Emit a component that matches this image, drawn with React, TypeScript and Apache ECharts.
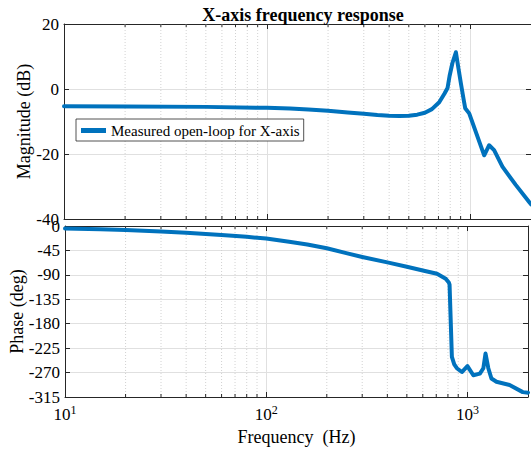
import React, { useEffect, useRef } from 'react';
import * as echarts from 'echarts';

const TITLE = 'X-axis frequency response';
const LEGEND_LABEL = 'Measured open-loop for X-axis';
const X_NAME = 'Frequency  (Hz)';
const MAG_NAME = 'Magnitude (dB)';
const PHASE_NAME = 'Phase (deg)';

const MAG_FREQ = [10, 20, 50, 100, 130, 160, 200, 250, 300, 350, 400, 450, 500, 550, 600, 650, 706, 750, 776, 794, 820, 853, 880, 903, 930, 948, 992, 1176, 1244, 1316, 1446, 1682, 1954, 2000];
const MAG_DB = [-5.3, -5.4, -5.5, -5.8, -6.0, -6.3, -6.7, -7.2, -7.6, -8.0, -8.2, -8.3, -8.2, -7.9, -7.3, -6.2, -4.1, -1.4, 0.3, 4.0, 8.0, 11.3, 6.0, 1.7, -3.0, -5.9, -7.5, -20.4, -17.3, -18.8, -23.9, -29.5, -34.7, -35.5];

const PHASE_FREQ = [10, 15, 20, 30, 40, 60, 80, 100, 130, 160, 200, 250, 300, 400, 500, 600, 706, 780, 808, 815, 837, 860, 886, 938, 1000, 1070, 1153, 1200, 1230, 1270, 1316, 1394, 1620, 1884, 2000];
const PHASE_DEG = [-4.5, -6, -7.5, -10, -12.5, -16.5, -20, -23, -29, -34, -41, -50, -57, -67, -75, -82, -88, -97, -104, -108, -241, -255, -262, -269, -258, -275, -272, -262, -235, -262, -281, -287, -293, -306, -307];

const MINOR_FREQ = [20, 30, 40, 50, 60, 70, 80, 90, 200, 300, 400, 500, 600, 700, 800, 900];
const F_RANGE = [10, 2000];
const MAG_RANGE = [-40, 20];
const MAG_STEP = 20;
const PHASE_RANGE = [-315, 0];
const PHASE_STEP = 45;

const FONT = "'Liberation Serif', 'Times New Roman', serif";
const DARK = '#262626';
const GRID_COLOR = '#e0e0e0';
const LINE_COLOR = '#0072BD';

function xAxis(gridIndex: number, position: string, showLabel: boolean, showSplit: boolean, name?: string) {
  return {
    type: 'log',
    logBase: 10,
    gridIndex,
    position,
    min: F_RANGE[0],
    max: F_RANGE[1],
    name: name || '',
    nameLocation: 'middle',
    nameGap: 31,
    nameMoveOverlap: false,
    nameTextStyle: { fontFamily: FONT, fontSize: 18, color: '#000' },
    axisLine: { show: true, onZero: false, lineStyle: { color: DARK, width: 1 } },
    axisTick: { show: true, inside: true, length: 5, lineStyle: { color: DARK, width: 1 } },
    axisLabel: showLabel
      ? {
          show: true,
          margin: 7,
          color: '#000',
          fontFamily: FONT,
          formatter: (v: number) => {
            const e = Math.log10(v);
            const r = Math.round(e);
            if (Math.abs(e - r) > 1e-6) return '';
            return `{b|10}{s|${r}}`;
          },
          rich: {
            b: { fontFamily: FONT, fontSize: 17, lineHeight: 13, color: '#000', padding: [7, 0, 0, 0] },
            s: { fontFamily: FONT, fontSize: 12, lineHeight: 10, color: '#000', verticalAlign: 'top' },
          },
        }
      : { show: false },
    splitLine: { show: showSplit, lineStyle: { color: GRID_COLOR, width: 1 } },
  };
}

function yAxis(gridIndex: number, position: string, range: number[], step: number, showLabel: boolean, name?: string, nameGap?: number) {
  return {
    type: 'value',
    gridIndex,
    position,
    min: range[0],
    max: range[1],
    interval: step,
    name: name || '',
    nameLocation: 'middle',
    nameGap: nameGap || 0,
    nameRotate: 90,
    nameMoveOverlap: false,
    nameTextStyle: { fontFamily: FONT, fontSize: 18, color: '#000' },
    axisLine: { show: true, onZero: false, lineStyle: { color: DARK, width: 1 } },
    axisTick: { show: true, inside: true, length: 5, lineStyle: { color: DARK, width: 1 } },
    axisLabel: showLabel ? { show: true, margin: 5, fontFamily: FONT, fontSize: 17, color: '#000' } : { show: false },
    splitLine: { show: showLabel, lineStyle: { color: GRID_COLOR, width: 1 } },
  };
}

function minorRender(yMin: number, yMax: number) {
  return (params: any, api: any) => {
    const f = api.value(0);
    const top = api.coord([f, yMax]);
    const bot = api.coord([f, yMin]);
    return {
      type: 'group',
      children: [
        { type: 'line', shape: { x1: top[0], y1: top[1], x2: bot[0], y2: bot[1] }, style: { stroke: '#d2d2d2', lineWidth: 1, lineDash: [1, 2] } },
        { type: 'line', shape: { x1: bot[0], y1: bot[1], x2: bot[0], y2: bot[1] - 3 }, style: { stroke: DARK, lineWidth: 1 } },
        { type: 'line', shape: { x1: top[0], y1: top[1], x2: top[0], y2: top[1] + 3 }, style: { stroke: DARK, lineWidth: 1 } },
      ],
    };
  };
}

export default function App() {
  const ref = useRef<HTMLDivElement>(null);
  useEffect(() => {
    if (!ref.current) return;
    const chart = echarts.init(ref.current, null, { renderer: 'svg' });
    const magData = MAG_FREQ.map((f, i) => [f, MAG_DB[i]]);
    const phaseData = PHASE_FREQ.map((f, i) => [f, PHASE_DEG[i]]);
    chart.setOption({
      animation: false,
      backgroundColor: '#fff',
      textStyle: { fontFamily: FONT },
      title: {
        text: TITLE,
        left: 298,
        top: 1,
        textAlign: 'center',
        textStyle: { fontFamily: FONT, fontSize: 18, fontWeight: 'bold', color: '#000' },
      },
      legend: {
        data: [LEGEND_LABEL],
        left: 76,
        top: 119,
        icon: 'rect',
        itemWidth: 25,
        itemHeight: 5,
        padding: [4, 4, 3, 5],
        backgroundColor: '#fff',
        borderColor: DARK,
        borderWidth: 0.8,
        borderRadius: 0,
        textStyle: { fontFamily: FONT, fontSize: 15, color: '#000' },
      },
      grid: [
        { left: 64, top: 24, width: 468, height: 195 },
        { left: 64, top: 226, width: 468, height: 171 },
      ],
      xAxis: [
        xAxis(0, 'bottom', false, true),
        xAxis(0, 'top', false, false),
        xAxis(1, 'bottom', true, true, X_NAME),
        xAxis(1, 'top', false, false),
      ],
      yAxis: [
        yAxis(0, 'left', MAG_RANGE, MAG_STEP, true, MAG_NAME, 31),
        yAxis(0, 'right', MAG_RANGE, MAG_STEP, false),
        yAxis(1, 'left', PHASE_RANGE, PHASE_STEP, true, PHASE_NAME, 39),
        yAxis(1, 'right', PHASE_RANGE, PHASE_STEP, false),
      ],
      series: [
        {
          type: 'custom',
          name: 'minor-mag',
          xAxisIndex: 0,
          yAxisIndex: 0,
          silent: true,
          z: 1,
          clip: false,
          encode: { x: 0, y: 1 },
          data: MINOR_FREQ.map((f) => [f, MAG_RANGE[0]]),
          renderItem: minorRender(MAG_RANGE[0], MAG_RANGE[1]),
        },
        {
          type: 'custom',
          name: 'minor-phase',
          xAxisIndex: 2,
          yAxisIndex: 2,
          silent: true,
          z: 1,
          clip: false,
          encode: { x: 0, y: 1 },
          data: MINOR_FREQ.map((f) => [f, PHASE_RANGE[0]]),
          renderItem: minorRender(PHASE_RANGE[0], PHASE_RANGE[1]),
        },
        {
          type: 'line',
          name: LEGEND_LABEL,
          xAxisIndex: 0,
          yAxisIndex: 0,
          data: magData,
          showSymbol: false,
          symbol: 'none',
          clip: true,
          z: 3,
          color: LINE_COLOR,
          itemStyle: { color: LINE_COLOR },
          lineStyle: { color: LINE_COLOR, width: 4, join: 'round', cap: 'round' },
        },
        {
          type: 'line',
          name: 'phase',
          xAxisIndex: 2,
          yAxisIndex: 2,
          data: phaseData,
          showSymbol: false,
          symbol: 'none',
          clip: true,
          z: 3,
          color: LINE_COLOR,
          lineStyle: { color: LINE_COLOR, width: 4, join: 'round', cap: 'round' },
        },
      ],
    });
    return () => chart.dispose();
  }, []);
  return <div ref={ref} style={{ position: 'fixed', left: 0, top: 0, width: 531, height: 456 }} />;
}
